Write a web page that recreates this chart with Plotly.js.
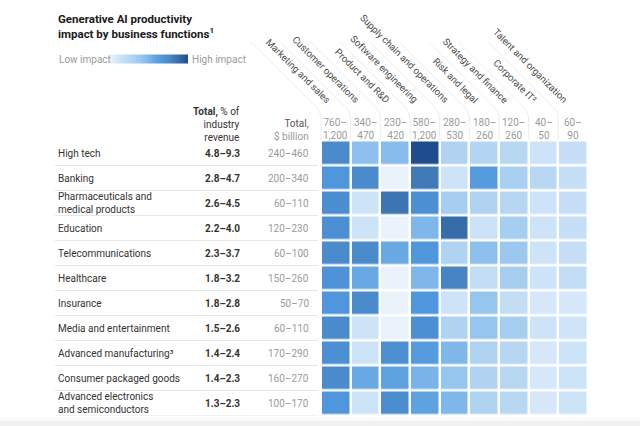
<!DOCTYPE html>
<html><head><meta charset="utf-8">
<script src="https://cdn.plot.ly/plotly-3.0.1.min.js"></script>
<style>html,body{margin:0;padding:0;background:#fff}#c{width:640px;height:426px}</style>
</head><body><div id="c"></div>
<script>
const functions = ["Marketing and sales","Customer operations","Product and R&D","Software engineering","Supply chain and operations","Risk and legal","Strategy and finance","Corporate IT²","Talent and organization"];
const functionTotals = ["760–<br>1,200","340–<br>470","230–<br>420","580–<br>1,200","280–<br>530","180–<br>260","120–<br>260","40–<br>50","60–<br>90"];
const industries = ["High tech","Banking","Pharmaceuticals and<br>medical products","Education","Telecommunications","Healthcare","Insurance","Media and entertainment","Advanced manufacturing³","Consumer packaged goods","Advanced electronics<br>and semiconductors"];
const pctRevenue = ["4.8–9.3","2.8–4.7","2.6–4.5","2.2–4.0","2.3–3.7","1.8–3.2","1.8–2.8","1.5–2.6","1.4–2.4","1.4–2.3","1.3–2.3"];
const billions = ["240–460","200–340","60–110","120–230","60–100","150–260","50–70","60–110","170–290","160–270","100–170"];
const impact = [
  [75,45,47,100,30,28,26,15,18],
  [68,75,2,82,15,65,33,26,18],
  [73,15,84,72,35,30,27,15,18],
  [72,15,2,50,88,16,35,15,18],
  [75,75,57,68,30,45,40,15,18],
  [70,57,2,50,78,20,35,15,20],
  [68,75,2,68,15,42,20,12,12],
  [75,15,2,72,30,42,35,15,14],
  [72,15,72,65,50,30,27,12,15],
  [75,57,60,52,42,30,26,12,15],
  [68,15,74,60,50,30,26,12,15]
];

const W = 640, H = 426;
const px = x => x / W;
const py = y => 1 - y / H;
const FONT = "Roboto, 'Liberation Sans', Arial, sans-serif";
const xDom = [px(321), px(588)];
const yDom = [py(415.5), py(140.5)];

const colorscale = [[0,'#eef5fc'],[0.12,'#d5e7f8'],[0.15,'#cde3f7'],[0.2,'#c3ddf5'],[0.3,'#b0d3f2'],[0.4,'#9cc8ef'],[0.5,'#80b7ea'],[0.6,'#5ea3e0'],[0.68,'#4f96dc'],[0.75,'#4a8bcc'],[0.85,'#3c74b0'],[1,'#1f4c8c']];

const trace = {
  type: 'heatmap', x: functions, y: industries, z: impact,
  zmin: 0, zmax: 100, colorscale: colorscale, xgap: 2.5, ygap: 2.5,
  hoverinfo: 'skip',
  showscale: true,
  colorbar: {orientation: 'h', x: px(148), xanchor: 'center', y: py(59.5), yanchor: 'middle',
    lenmode: 'pixels', len: 80, thicknessmode: 'pixels', thickness: 9, outlinewidth: 0,
    showticklabels: false, ticks: '', xpad: 0, ypad: 0}
};

const annotations = [];
const shapes = [];
annotations.push({xref:'paper', yref:'paper', x: px(56), y: py(10), xanchor:'left', yanchor:'top', align:'left', showarrow:false,
  text:'<b>Generative AI productivity<br>impact by business functions<sup>1</sup></b>', font:{family:FONT, size:11.5, color:'#1a1a1a'}});
annotations.push({xref:'paper', yref:'paper', x: px(57), y: py(59.5), xanchor:'left', yanchor:'middle', showarrow:false,
  text:'Low impact', font:{family:FONT, size:10, color:'#9a9a9a'}});
annotations.push({xref:'paper', yref:'paper', x: px(190), y: py(59.5), xanchor:'left', yanchor:'middle', showarrow:false,
  text:'High impact', font:{family:FONT, size:10, color:'#9a9a9a'}});
annotations.push({xref:'paper', yref:'paper', x: px(242), y: py(104), xanchor:'right', yanchor:'top', align:'right', showarrow:false,
  text:'<b>Total,</b> % of<br>industry<br>revenue', font:{family:FONT, size:10, color:'#333'}});
annotations.push({xref:'paper', yref:'paper', x: px(311), y: py(116), xanchor:'right', yanchor:'top', align:'right', showarrow:false,
  text:'<span style="color:#555">Total,</span><br>$ billion', font:{family:FONT, size:10, color:'#9a9a9a'}});

industries.forEach((ind, i) => {
  annotations.push({xref:'paper', yref:'y', x: px(56), y: ind, xanchor:'left', yanchor:'middle', align:'left', showarrow:false,
    text: ind, font:{family:FONT, size:10, color:'#333'}});
  annotations.push({xref:'paper', yref:'y', x: px(242), y: ind, xanchor:'right', yanchor:'middle', showarrow:false,
    text: '<b>' + pctRevenue[i] + '</b>', font:{family:FONT, size:10, color:'#333'}});
  annotations.push({xref:'paper', yref:'y', x: px(311), y: ind, xanchor:'right', yanchor:'middle', showarrow:false,
    text: billions[i], font:{family:FONT, size:10, color:'#9a9a9a'}});
  shapes.push({type:'line', xref:'paper', yref:'y', x0: px(55), x1: px(318), y0: i + 0.5, y1: i + 0.5,
    line:{color:'#e6e6e6', width:1}, layer:'below'});
});

const colW = (xDom[1] - xDom[0]) * W / functions.length;
functions.forEach((f, j) => {
  annotations.push({xref:'x', yref:'paper', x: f, y: py(129), xanchor:'center', yanchor:'middle', align:'center', showarrow:false,
    text: functionTotals[j], font:{family:FONT, size:10, color:'#9a9a9a'}});
  annotations.push({xref:'x', yref:'paper', x: f, y: py(108), xanchor:'right', yanchor:'bottom', textangle: 45, showarrow:false,
    xshift: -1, text: f, font:{family:FONT, size:9.6, color:'#4a4a4a'}});
  const bx = xDom[0] * W + j * colW;
  const p = (x, y) => px(x).toFixed(4) + ',' + py(y).toFixed(4);
  shapes.push({type:'path', xref:'paper', yref:'paper', layer:'below',
    path: 'M' + p(bx, 140) + ' L' + p(bx, 118) + ' Q' + p(bx, 112) + ' ' + p(bx - 5, 107) + ' L' + p(bx - 70, 42),
    line:{color:'#ececec', width:1}});
});
shapes.push({type:'rect', xref:'paper', yref:'paper', x0:0, x1:1, y0:0, y1:py(421), fillcolor:'#f1f1f1', line:{width:0}, layer:'below'});
shapes.push({type:'rect', xref:'paper', yref:'paper', x0:0, x1:1, y0:py(421), y1:py(418), fillcolor:'#f8f8f8', line:{width:0}, layer:'below'});

const layout = {
  width: W, height: H, margin: {l:0, r:0, t:0, b:0}, paper_bgcolor:'#fff', plot_bgcolor:'#fff',
  showlegend: false,
  xaxis: {domain: xDom, range: [-0.5, functions.length - 0.5], autorange: false, showticklabels:false, ticks:'', showgrid:false, zeroline:false, showline:false, fixedrange:true},
  yaxis: {domain: yDom, range: [industries.length - 0.5, -0.5], autorange: false, showticklabels:false, ticks:'', showgrid:false, zeroline:false, showline:false, fixedrange:true},
  annotations: annotations, shapes: shapes
};
Plotly.newPlot('c', [trace], layout, {staticPlot:true, displayModeBar:false});
</script></body></html>
